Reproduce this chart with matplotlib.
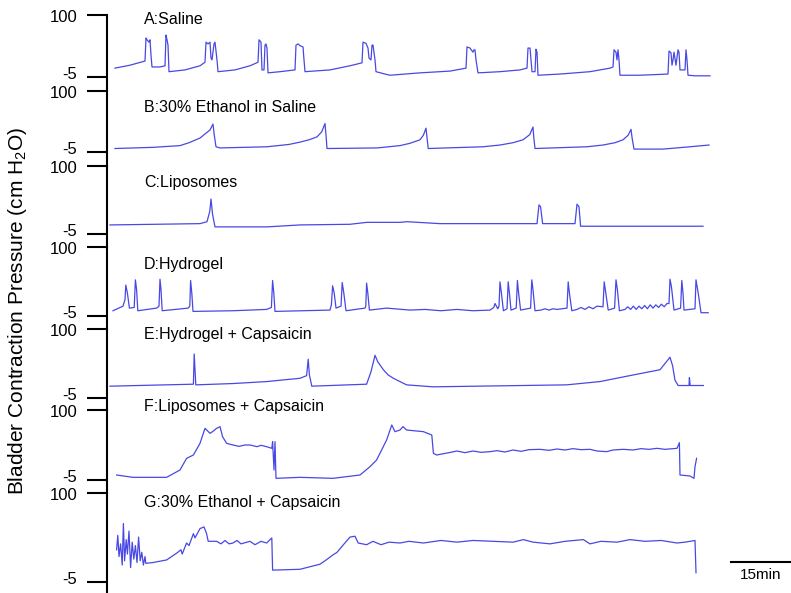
from matplotlib import pyplot as plt

plt.rcParams['font.family'] = ['Liberation Sans', 'DejaVu Sans']
plt.rcParams['mathtext.default'] = 'regular'

# traces: (time in min, pressure in cm H2O)
saline = [(0.5, 10), (4.25, 15), (8, 22), (8.25, 61), (8.5, 58), (9, 54), (9.25, 58), (9.5, 32), (9.75, 12),
          (11.75, 12), (13, 14), (13.25, 66), (13.5, 58), (13.75, 49), (14, 4), (18, 7), (21.75, 14), (23, 20),
          (23.25, 54), (23.75, 51), (24.25, 54), (24.5, 27), (24.75, 24), (25.25, 51), (25.5, 54), (26, 24),
          (26.25, 4), (30.5, 7), (34.25, 14), (36.25, 20), (36.5, 58), (37, 54), (37.25, 7), (37.75, 7), (38, 49),
          (38.25, 51), (38.5, 44), (38.75, 2), (41.75, 4), (45.5, 7), (45.75, 49), (46.25, 51), (46.75, 48),
          (47.5, 46), (47.75, 24), (48, 4), (54.25, 7), (59.25, 14), (62.25, 19), (62.5, 54), (63.25, 52),
          (63.75, 44), (64, 27), (64.5, 24), (64.75, 49), (65, 49), (65.5, 24), (65.75, 4), (68, 0), (69.25, -2),
          (76.75, 2), (84.25, 5), (88.25, 10), (88.5, 46), (89.25, 44), (90, 37), (90.25, 41), (90.5, 41),
          (90.75, 24), (91.25, 2), (96.75, 4), (101.75, 7), (103.5, 10), (103.75, 44), (104.25, 44), (104.5, 24),
          (104.75, 4), (105.5, 4), (105.75, 42), (106, 37), (106.25, -2), (111.75, 0), (119.25, 4), (124.25, 10),
          (125, 12), (125.25, 41), (125.75, 37), (126, 24), (126.25, 41), (126.5, 24), (126.75, -2), (131.75, -2),
          (138.75, 0), (139, 39), (139.5, 36), (139.75, 15), (140, 24), (140.25, 37), (140.75, 15), (141.25, 41),
          (141.5, 37), (141.75, 7), (143, 7), (143.25, 41), (143.5, 24), (143.75, -2), (145.5, -3), (149.25, -3)]

ethanol = [(0.5, 1), (10, 3), (16.75, 6), (19, 11), (21.75, 19), (23, 26), (24.25, 33), (25, 43), (25.3, 25),
           (25.75, 4), (26.75, 2), (38.5, 4), (44, 8), (46.75, 12), (49, 16), (51, 21), (52.2, 30), (53, 44),
           (53.3, 20), (53.5, 1), (66, 2), (71.75, 6), (74.25, 10), (76.75, 16), (77.6, 24), (78.25, 36),
           (78.5, 20), (78.8, 1), (92.5, 4), (96.75, 7), (100, 11), (102.5, 16), (104.2, 25), (105, 38),
           (105.2, 20), (105.5, 1), (118.5, 4), (122.5, 7), (125.5, 11), (127.5, 16), (128.8, 24), (129.5, 34),
           (129.8, 18), (130.25, 0), (137.5, 0), (144.25, 4), (149, 7)]

liposomes = [(-0.75, 9), (21.75, 11), (23.5, 14), (24.2, 30), (24.5, 49), (24.9, 25), (25.5, 6), (38.5, 6),
             (46.75, 9), (59.25, 10), (63.5, 13), (71.75, 13), (73.5, 14), (81.75, 11), (106, 11), (106.5, 40),
             (106.9, 37), (107.4, 11), (115.5, 11), (116, 41), (116.5, 37), (116.9, 7), (134.25, 7), (147.5, 7)]

hydrogel = [(0, 3), (2.5, 10), (3.0, 20), (3.2, 42), (3.6, 30), (4.1, 7), (5.3, 8), (5.6, 50), (5.9, 35),
            (6.2, 3), (10.9, 7), (11.5, 10), (11.75, 51), (12.0, 35), (12.3, 3), (18.8, 7), (19.2, 10), (19.4, 49),
            (19.7, 30), (20, 2), (30, 3), (38.4, 5), (39.6, 8), (39.9, 49), (40.2, 30), (40.5, 2), (54.25, 4),
            (54.6, 12), (54.9, 41), (55.3, 30), (55.75, 7), (57.0, 10), (57.3, 46), (57.7, 30), (58.25, 3),
            (63, 7), (63.2, 10), (63.4, 45), (63.7, 30), (64.1, 4), (68.4, 7), (74.25, 4), (78, 5), (82, 3),
            (86, 5), (90, 3), (94.25, 4), (95.2, 8), (95.5, 14), (96.2, 6), (96.5, 10), (96.75, 47), (97.1, 30),
            (97.6, 3), (98.5, 6), (98.8, 47), (99.1, 30), (99.5, 4), (100.8, 7), (101.1, 49), (101.4, 30),
            (101.9, 4), (104.4, 7), (104.7, 50), (105.0, 35), (105.5, 3), (107, 4), (108, 6), (109, 4), (110, 6),
            (111, 5), (113.5, 7), (113.8, 47), (114.1, 30), (114.7, 3), (116, 5), (117, 8), (118, 5), (119, 9),
            (120, 6), (121, 10), (122.5, 9), (122.8, 47), (123.2, 30), (123.8, 4), (125.4, 7), (125.75, 50),
            (126.1, 35), (126.6, 3), (128, 5), (128.7, 9), (129.4, 5), (130.1, 10), (130.8, 5), (131.5, 10),
            (132.2, 6), (132.9, 11), (133.6, 6), (134.3, 12), (135, 7), (135.7, 12), (136.4, 8), (137.1, 13),
            (137.8, 9), (138.5, 14), (139.0, 14), (139.25, 51), (139.6, 40), (140.25, 4), (141.9, 7), (142.2, 49),
            (142.5, 30), (142.75, 4), (145.5, 6), (145.75, 50), (146.3, 30), (147, 0), (148.8, 0)]

hydrogel_caps = [(-0.75, 13), (20.1, 16), (20.3, 62), (20.7, 15), (30, 17), (38.4, 20), (46.75, 25), (48.4, 29),
                 (48.8, 54), (49.1, 30), (49.7, 13), (63.4, 16), (64.5, 35), (65.5, 60), (66.2, 50), (67.6, 38),
                 (68.8, 30), (70.1, 25), (73.4, 15), (80, 12), (113.4, 15), (121.75, 20), (130, 30), (136.75, 38),
                 (139.25, 57), (139.9, 44), (140.5, 22), (141.3, 14), (144, 14), (144.1, 26), (144.3, 14),
                 (147.6, 14)]

liposomes_caps = [(0.9, 2.5), (5, -1), (13.4, -1), (16.75, 10), (18.4, 27.5), (20.1, 32.5), (21.75, 50),
                  (23, 72.5), (24.25, 65), (25, 68), (25.9, 72.5), (26.75, 75), (27.4, 60), (28.4, 50), (30, 47.5),
                  (31.5, 45.5), (33, 47.5), (34.25, 47.5), (36, 45), (37, 47), (38.4, 45), (39.7, 42.5),
                  (39.9, 52.5), (40.25, 10), (40.5, 52.5), (40.75, -2.5), (46.75, -1), (55, -2.5), (61.75, 2.5),
                  (64.25, 15), (65.9, 25), (68.4, 55), (69.7, 77.5), (70.5, 67.5), (71.75, 70), (72.5, 75),
                  (73.4, 70), (77.6, 67.5), (79.7, 62.5), (80.1, 35), (80.9, 32.5), (84, 36), (86, 38.5), (88, 36),
                  (90, 38.5), (92, 36.5), (94.25, 37.5), (96, 39), (98, 37), (100, 40), (102, 38), (104, 40.5),
                  (106.75, 41), (109, 39.5), (111, 41.5), (113, 40), (115, 42), (117, 40.5), (119.25, 41),
                  (121, 38.5), (123.4, 37.5), (125, 40), (127.6, 41), (130, 40), (132, 42), (134, 41),
                  (136, 42.5), (138, 41), (141, 42.5), (141.6, 51), (141.75, 2.5), (144.25, 1), (145.25, -2.5),
                  (145.5, 15), (145.9, 27.5)]

ethanol_caps = [(0.9, 33), (1.2, 50), (1.5, 25), (1.9, 40), (2.3, 15), (2.6, 64), (2.9, 20), (3.3, 45),
                (3.6, 28), (4, 55), (4.4, 12), (4.8, 42), (5.2, 22), (5.6, 38), (6, 18), (6.4, 48), (6.8, 20),
                (7.2, 30), (7.6, 15), (8, 25), (8.2, 17), (10, 18), (13.4, 21), (15.9, 29), (17, 33), (17.3, 28),
                (18.4, 41), (19, 38), (20.1, 52), (20.5, 47), (21.75, 58), (22.75, 60), (23.4, 52), (23.8, 43),
                (25.9, 43), (27, 40), (28, 44), (29, 40), (30, 41), (31, 44), (32, 40), (34.25, 43), (35.5, 39),
                (37, 43), (38.4, 41), (39.7, 47), (39.9, 9), (46.75, 10), (51.75, 16), (53, 20), (55, 27),
                (56, 30), (57.6, 39), (59.25, 48), (60.5, 49), (61.3, 41), (63.4, 39), (65, 43), (67, 39),
                (69, 42), (71.75, 41), (74, 43), (77.6, 41), (82, 44), (86, 42), (90, 44), (95, 43), (100, 42),
                (102.6, 45), (105, 42), (109.25, 40), (113, 43), (117.6, 45), (119.25, 40), (122, 43), (126, 42),
                (129.25, 45), (133, 43), (137, 44), (141, 41), (143, 42), (145.5, 44), (145.75, 6)]

traces = [saline, ethanol, liposomes, hydrogel, hydrogel_caps, liposomes_caps, ethanol_caps]
names = ['A:Saline', 'B:30% Ethanol in Saline', 'C:Liposomes', 'D:Hydrogel',
         'E:Hydrogel + Capsaicin', 'F:Liposomes + Capsaicin', 'G:30% Ethanol + Capsaicin']
tick_vals = [-5, 100]
scale_min = 15

# layout in pixels
W, H = 791, 593
top_px = [15, 91, 166, 247, 329, 410, 493]
bot_px = [77, 152, 234, 316, 398, 480, 582]
name_px = [20, 108, 183, 264, 334, 407, 503]
x0_px = 107
px_per_min = 4.0
t_left = -1.5
label_dy = [2.0, -1.5]   # small nudge (pt) so -5 and 100 labels do not touch

fig = plt.figure(figsize=(W / 100, H / 100), dpi=100)
cor = '#4848e4'

for i in range(len(traces)):
    top = top_px[i]
    nxt = top_px[i + 1] if i < len(traces) - 1 else H
    ax = fig.add_axes([x0_px / W, 1 - nxt / H, (W - x0_px) / W, (nxt - top) / H])
    vpp = (tick_vals[1] - tick_vals[0]) / (bot_px[i] - top)
    ax.set_ylim(tick_vals[1] - (nxt - top) * vpp, tick_vals[1])
    ax.set_xlim(t_left, t_left + (W - x0_px) / px_per_min)
    ax.patch.set_visible(False)

    t = [p[0] for p in traces[i]]
    v = [p[1] for p in traces[i]]
    ax.plot(t, v, color=cor, lw=0.9, clip_on=False)

    for s in ['top', 'right', 'bottom']:
        ax.spines[s].set_visible(False)
    ax.spines['left'].set_linewidth(1.5)
    ax.set_xticks([])
    ax.set_yticks(tick_vals)
    ax.tick_params(axis='y', direction='out', length=14.4, width=1.5, labelleft=False)
    for k, dy in zip(tick_vals, label_dy):
        ax.annotate(str(k), xy=(0, k), xycoords=('axes fraction', 'data'), xytext=(-21.5, dy),
                    textcoords='offset points', ha='right', va='center', fontsize=12)

    fig.text(144 / W, 1 - name_px[i] / H, names[i], fontsize=11.5, va='center', ha='left')

    if i == len(traces) - 1:
        # barra de escala
        tb = 154.5
        yb = tick_vals[0] + (bot_px[i] - 562) * vpp
        ax.plot([tb, tb + scale_min], [yb, yb], color='k', lw=1.5, clip_on=False)
        ax.text(tb + scale_min / 2, yb - 13 * vpp, '%dmin' % scale_min, ha='center', va='center', fontsize=11)

fig.text(18 / W, 1 - 311 / H, 'Bladder Contraction Pressure (cm H$_2$O)', rotation=90,
         ha='center', va='center', fontsize=15)

fig.savefig('out.png', dpi=100)
